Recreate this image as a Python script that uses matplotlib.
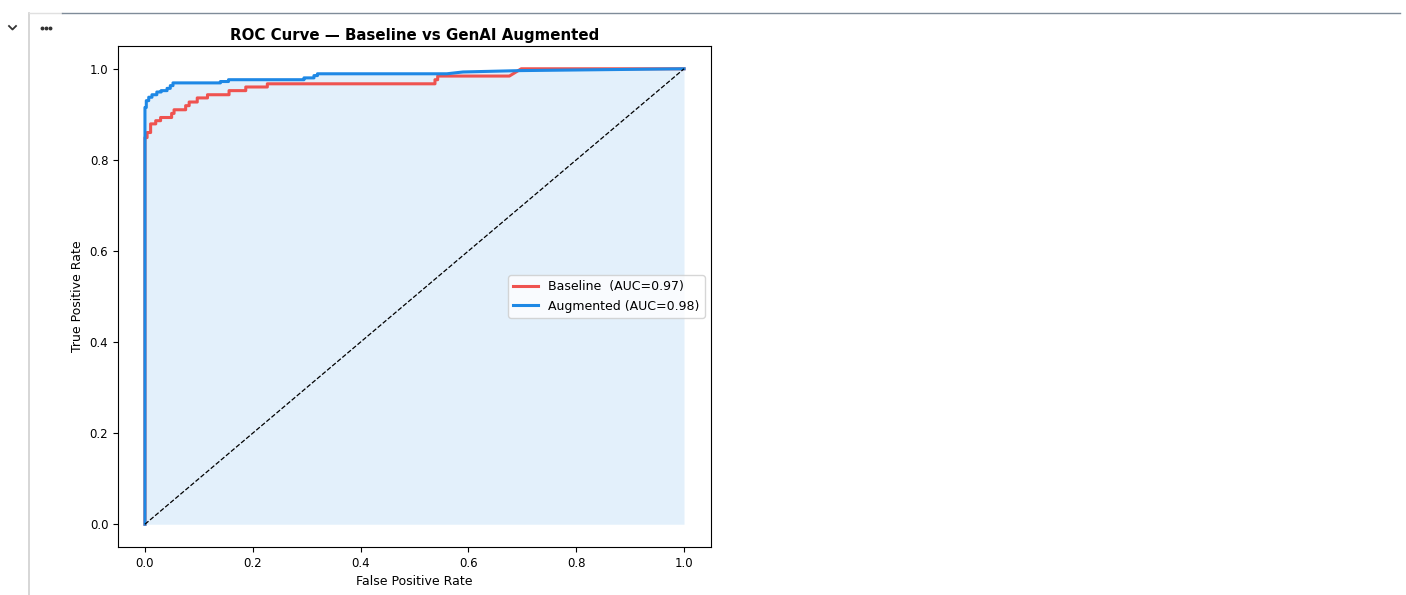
import matplotlib
matplotlib.use("Agg")
import matplotlib.pyplot as plt
from matplotlib.lines import Line2D

# ROC points (false positive rate, true positive rate)
baseline_fpr = [0.0, 0.0, 0.004, 0.004, 0.0105, 0.0105, 0.020, 0.020, 0.029, 0.029,
                0.0495, 0.0495, 0.054, 0.054, 0.0755, 0.0755, 0.082, 0.082, 0.097, 0.097,
                0.116, 0.116, 0.156, 0.156, 0.187, 0.187, 0.227, 0.227, 0.538, 0.538,
                0.543, 0.543, 0.676, 0.698, 1.0]
baseline_tpr = [0.0, 0.849, 0.849, 0.860, 0.860, 0.879, 0.879, 0.886, 0.886, 0.893,
                0.893, 0.902, 0.902, 0.910, 0.910, 0.919, 0.919, 0.927, 0.927, 0.936,
                0.936, 0.943, 0.943, 0.952, 0.952, 0.960, 0.960, 0.967, 0.967, 0.976,
                0.976, 0.984, 0.984, 1.0, 1.0]

augmented_fpr = [0.0, 0.0, 0.0025, 0.0025, 0.007, 0.007, 0.013, 0.013, 0.022, 0.022,
                 0.030, 0.030, 0.041, 0.041, 0.047, 0.047, 0.052, 0.052, 0.140, 0.140,
                 0.155, 0.155, 0.295, 0.295, 0.3135, 0.3135, 0.32, 0.32, 0.560, 0.590,
                 0.697, 1.0]
augmented_tpr = [0.0, 0.915, 0.915, 0.930, 0.930, 0.9375, 0.9375, 0.943, 0.943, 0.949,
                 0.949, 0.952, 0.952, 0.957, 0.957, 0.963, 0.963, 0.969, 0.969, 0.972,
                 0.972, 0.976, 0.976, 0.980, 0.980, 0.985, 0.985, 0.989, 0.989, 0.993,
                 0.996, 1.0]

baseline_auc = 0.97
augmented_auc = 0.98

W, H = 1406, 595
fig = plt.figure(figsize=(W / 100, H / 100), dpi=100)
fig.patch.set_facecolor("white")

# notebook cell chrome
fig.add_artist(Line2D([29 / W, 29 / W], [0, 1 - 13 / H], color="#cfcfcf", lw=1.2))
fig.add_artist(Line2D([29 / W, 62 / W], [1 - 13 / H, 1 - 13 / H], color="#e0e0e0", lw=1))
fig.add_artist(Line2D([62 / W, 1400 / W], [1 - 13 / H, 1 - 13 / H], color="#7f8c99", lw=1))
fig.add_artist(Line2D([9 / W, 12.5 / W, 16 / W], [1 - 26 / H, 1 - 29.5 / H, 1 - 26 / H],
                      color="#333333", lw=1.3))
fig.add_artist(Line2D([42 / W, 46 / W, 50 / W], [1 - 28 / H] * 3, color="#333333",
                      lw=0, marker="o", markersize=1.8))

ax = fig.add_axes([118 / W, 1 - 547 / H, 593 / W, 501 / H])

ax.fill_between(augmented_fpr, augmented_tpr, color="#1e88e5", alpha=0.12, lw=0)
ax.plot(baseline_fpr, baseline_tpr, color="#ef5350", lw=2.2,
        label=f"Baseline  (AUC={baseline_auc:.2f})")
ax.plot(augmented_fpr, augmented_tpr, color="#1e88e5", lw=2.2,
        label=f"Augmented (AUC={augmented_auc:.2f})")
ax.plot([0, 1], [0, 1], "k--", lw=0.9)

ax.set_xlabel("False Positive Rate", fontsize=9)
ax.set_ylabel("True Positive Rate", fontsize=9)
ax.set_title("ROC Curve — Baseline vs GenAI Augmented", fontsize=10.8,
             fontweight="bold", pad=4)
ax.tick_params(labelsize=8.5)
ax.legend(loc="center right", fontsize=9)

fig.savefig("out.png", dpi=100)
